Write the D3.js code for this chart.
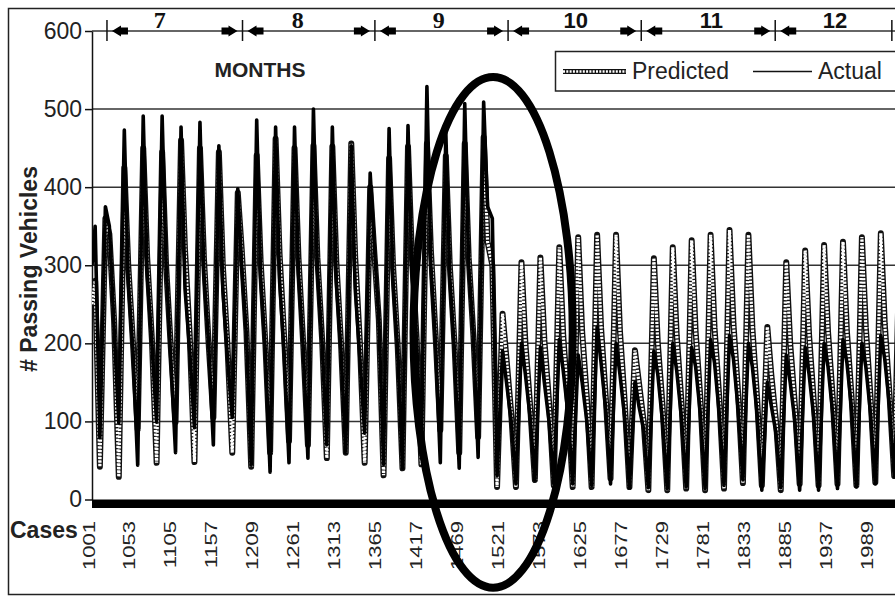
<!DOCTYPE html>
<html>
<head>
<meta charset="utf-8">
<script src="https://d3js.org/d3.v7.min.js"></script>
<style>
	body { margin: 0; background: #fff; }
	svg { display: block; }
	text { font-family: "Liberation Sans", Arial, sans-serif; }
</style>
</head>
<body>
<div id="chart"></div>
<script>
// y ticks and x tick labels (case numbers)
var yTicks = [0, 100, 200, 300, 400, 500, 600];
var xTickLabels = [1001, 1053, 1105, 1157, 1209, 1261, 1313, 1365, 1417, 1469,
	1521, 1573, 1625, 1677, 1729, 1781, 1833, 1885, 1937, 1989];

// months along the top (boundaries and label positions in cases)
var monthNames = ["7", "8", "9", "10", "11", "12"];
var monthBounds = [1020, 1192, 1360, 1529, 1698, 1868, 2016];
var monthLabelCases = [1087, 1262, 1441, 1615, 1787, 1944];

// hourly data, read per day: trough, peak, afternoon, evening
var firstTrough = 1011, dayLength = 24;
var keyHours = [0, 7, 12, 18];
var leadCases = [1001, 1005];
var leadActual = [300, 350];
var leadPredicted = [250, 280];

var actualTrough = [79, 98, 44, 99, 60, 92, 70, 105, 44, 35, 47, 53, 70, 60, 85, 45, 40, 60, 47, 40, 54,
	30, 20, 25, 20, 20, 18, 20, 15, 15, 14, 16, 14, 18, 25, 12, 15, 12, 12, 14, 16, 20, 30];
var actualPeak = [375, 473, 491, 491, 477, 483, 453, 398, 486, 477, 477, 500, 477, 453, 418, 475, 479, 529, 470, 507, 509,
	190, 200, 195, 205, 185, 221, 200, 150, 190, 200, 195, 205, 210, 200, 150, 185, 195, 200, 205, 200, 210, 200];
var actualAfternoon = [350, 280, 290, 300, 270, 290, 270, 300, 285, 280, 290, 295, 280, 270, 330, 280, 290, 300, 285, 300, 375,
	150, 160, 150, 165, 150, 175, 160, 120, 160, 165, 170, 175, 180, 170, 120, 150, 160, 170, 175, 170, 180, 170];
var actualEvening = [220, 190, 200, 180, 190, 200, 180, 210, 190, 185, 195, 200, 190, 180, 230, 190, 200, 200, 190, 210, 360,
	100, 105, 100, 110, 100, 115, 105, 90, 100, 105, 110, 110, 115, 110, 85, 100, 105, 110, 115, 110, 120, 110];

var predTrough = [42, 29, 90, 47, 99, 48, 105, 60, 42, 60, 75, 70, 53, 60, 47, 31, 40, 45, 89, 60, 80,
	16, 16, 25, 18, 16, 16, 27, 16, 12, 12, 14, 12, 14, 21, 18, 12, 20, 18, 20, 18, 22, 30];
var predPeak = [360, 425, 450, 445, 460, 450, 445, 393, 441, 462, 450, 453, 452, 456, 400, 437, 452, 456, 440, 456, 464,
	238, 304, 310, 323, 336, 339, 339, 191, 309, 323, 332, 339, 345, 339, 221, 304, 319, 326, 330, 336, 341, 335];
var predAfternoon = [340, 300, 310, 300, 320, 310, 300, 320, 305, 315, 310, 310, 305, 310, 320, 300, 310, 320, 300, 310, 330,
	180, 200, 205, 210, 215, 220, 215, 150, 200, 210, 215, 220, 225, 220, 160, 200, 210, 215, 215, 220, 225, 220];
var predEvening = [230, 200, 205, 195, 210, 200, 195, 215, 200, 205, 200, 205, 200, 200, 230, 195, 205, 210, 200, 210, 300,
	110, 120, 125, 125, 130, 130, 125, 100, 120, 125, 130, 130, 135, 130, 100, 120, 125, 130, 130, 130, 135, 130];

// circled region (center case / value, radii in cases / vehicles)
var circle = {c: 1510, v: 214, rc: 101, rv: 327};

var width = 895, height = 597;
var left = 92, right = 895;

var svg = d3.select("#chart").append("svg")
	.attr("width", width)
	.attr("height", height);

var x = d3.scaleLinear().domain([1001, 2020]).range([left, right]);
var y = d3.scaleLinear().domain([0, 600]).range([499.5, 31]);

function buildSeries(lead, trough, peak, afternoon, evening) {
	var pts = leadCases.map(function(c, i) { return {c: c, v: lead[i]}; });
	trough.forEach(function(t, d) {
		var start = firstTrough + d * dayLength;
		[trough[d], peak[d], afternoon[d], evening[d]].forEach(function(v, k) {
			pts.push({c: start + keyHours[k], v: v});
		});
	});
	return pts;
}

var actual = buildSeries(leadActual, actualTrough, actualPeak, actualAfternoon, actualEvening);
var predicted = buildSeries(leadPredicted, predTrough, predPeak, predAfternoon, predEvening);

// outer frame
svg.append("rect")
	.attr("x", 8.5).attr("y", 8.5)
	.attr("width", 920).attr("height", 586)
	.attr("fill", "none").attr("stroke", "#222").attr("stroke-width", 1.5);

// gridlines
svg.selectAll(".grid")
	.data(yTicks.filter(function(d) { return d > 0; }))
	.enter().append("line")
	.attr("class", "grid")
	.attr("x1", left).attr("x2", right)
	.attr("y1", function(d) { return y(d); })
	.attr("y2", function(d) { return y(d); })
	.attr("stroke", "#333").attr("stroke-width", 1.5);

// y axis
var yAxis = svg.append("g")
	.attr("transform", "translate(" + left + ",0)")
	.call(d3.axisLeft(y).tickValues(yTicks).tickSize(7).tickSizeOuter(0).tickPadding(3));
yAxis.select(".domain").attr("stroke", "#111").attr("stroke-width", 1.5);
yAxis.selectAll(".tick line").attr("stroke", "#111").attr("stroke-width", 1.5);
yAxis.selectAll(".tick text")
	.attr("font-size", 23)
	.attr("fill", "#222")
	.attr("font-family", "'Liberation Sans', Arial, sans-serif");

// series
svg.append("clipPath").attr("id", "plotclip")
	.append("rect").attr("x", left).attr("y", 0).attr("width", right - left).attr("height", 505);

var line = d3.line()
	.x(function(d) { return x(d.c); })
	.y(function(d) { return y(d.v); });

var series = svg.append("g").attr("clip-path", "url(#plotclip)");
series.append("path").datum(predicted)
	.attr("d", line).attr("fill", "none")
	.attr("stroke", "#111").attr("stroke-width", 6).attr("stroke-linejoin", "round");
series.append("path").datum(predicted)
	.attr("d", line).attr("fill", "none")
	.attr("stroke", "#fff").attr("stroke-width", 3.2).attr("stroke-dasharray", "2.2,1.3");
series.append("path").datum(actual)
	.attr("d", line).attr("fill", "none")
	.attr("stroke", "#000").attr("stroke-width", 3.6).attr("stroke-linejoin", "round");

// thick category axis
svg.append("line")
	.attr("x1", left).attr("x2", right)
	.attr("y1", 503.75).attr("y2", 503.75)
	.attr("stroke", "#000").attr("stroke-width", 8.5);

var xAxis = svg.append("g")
	.attr("transform", "translate(0,500)")
	.call(d3.axisBottom(x).tickValues(xTickLabels).tickSize(0).tickFormat(d3.format("d")));
xAxis.select(".domain").remove();
xAxis.selectAll(".tick text")
	.attr("y", null).attr("dy", null)
	.attr("text-anchor", "end")
	.attr("font-size", 22)
	.attr("fill", "#222")
	.attr("font-family", "'Liberation Sans', Arial, sans-serif")
	.attr("transform", "translate(2,21) rotate(-90) scale(1,0.78)");

svg.append("text")
	.attr("x", 10).attr("y", 538)
	.attr("font-size", 23).attr("font-weight", "bold").attr("fill", "#222")
	.text("Cases");

svg.append("text")
	.attr("transform", "translate(37,269) rotate(-90)")
	.attr("text-anchor", "middle")
	.attr("font-size", 23).attr("font-weight", "bold").attr("fill", "#222")
	.text("# Passing Vehicles");

svg.append("text")
	.attr("x", 260).attr("y", 77)
	.attr("text-anchor", "middle")
	.attr("font-size", 21).attr("font-weight", "bold").attr("fill", "#222")
	.text("MONTHS");

// month markers
var months = svg.append("g");
monthBounds.forEach(function(b, i) {
	var bx = x(b);
	months.append("line")
		.attr("x1", bx).attr("x2", bx).attr("y1", 20).attr("y2", 41)
		.attr("stroke", "#111").attr("stroke-width", 1.5);
	var sides = [];
	if (i < monthBounds.length - 1) sides.push(1);
	if (i > 0 && i < monthBounds.length - 1) sides.push(-1);
	sides.forEach(function(s) {
		months.append("path")
			.attr("d", "M" + (bx + 5 * s) + ",31L" + (bx + 14 * s) + ",25.5L" + (bx + 14 * s) + ",36.5Z" +
				"M" + (bx + 13 * s) + ",27.5L" + (bx + 21 * s) + ",27.5L" + (bx + 21 * s) + ",34.5L" + (bx + 13 * s) + ",34.5Z")
			.attr("fill", "#000");
	});
});
months.selectAll(".month")
	.data(monthNames)
	.enter().append("text")
	.attr("class", "month")
	.attr("x", function(d, i) { return x(monthLabelCases[i]); })
	.attr("y", 28)
	.attr("text-anchor", "middle")
	.attr("font-size", function(d, i) { return i < 3 ? 24 : 22; })
	.attr("font-weight", "bold").attr("fill", "#111")
	.style("font-family", function(d, i) { return i < 3 ? "'Liberation Serif', 'Times New Roman', serif" : null; })
	.text(function(d) { return d; });

// legend
var legend = svg.append("g");
legend.append("rect")
	.attr("x", 555.5).attr("y", 51.5).attr("width", 360).attr("height", 39.5)
	.attr("fill", "#fff").attr("stroke", "#222").attr("stroke-width", 1.5);
legend.append("line")
	.attr("x1", 563).attr("x2", 626).attr("y1", 71.5).attr("y2", 71.5)
	.attr("stroke", "#111").attr("stroke-width", 5);
legend.append("line")
	.attr("x1", 563).attr("x2", 626).attr("y1", 71.5).attr("y2", 71.5)
	.attr("stroke", "#fff").attr("stroke-width", 2.6).attr("stroke-dasharray", "2,1.3");
legend.append("text")
	.attr("x", 632).attr("y", 79)
	.attr("font-size", 23).attr("fill", "#222")
	.text("Predicted");
legend.append("line")
	.attr("x1", 753).attr("x2", 812).attr("y1", 71.5).attr("y2", 71.5)
	.attr("stroke", "#111").attr("stroke-width", 1.5);
legend.append("text")
	.attr("x", 818).attr("y", 79)
	.attr("font-size", 23).attr("fill", "#222")
	.text("Actual");

// circled region
svg.append("ellipse")
	.attr("cx", x(circle.c))
	.attr("cy", y(circle.v))
	.attr("rx", x(circle.c + circle.rc) - x(circle.c))
	.attr("ry", y(circle.v - circle.rv) - y(circle.v))
	.attr("fill", "none")
	.attr("stroke", "#000")
	.attr("stroke-width", 8);
</script>
</body>
</html>
